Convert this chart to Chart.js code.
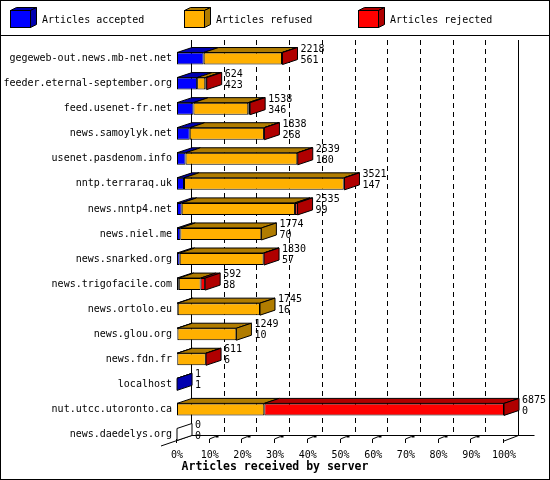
<!DOCTYPE html>
<html>
<head>
<meta charset="utf-8">
<script src="https://cdn.jsdelivr.net/npm/chart.js@4.4.1/dist/chart.umd.min.js"></script>
<style>
  html, body { margin: 0; padding: 0; background: #fff; }
  #wrap { width: 550px; height: 480px; }
</style>
</head>
<body>
<div id="wrap"><canvas id="chart" width="550" height="480"></canvas></div>
<script>
// ---------------------------------------------------------------
// Data

const hosts = [
    'gegeweb-out.news.mb-net.net', 'feeder.eternal-september.org', 'feed.usenet-fr.net',
    'news.samoylyk.net', 'usenet.pasdenom.info', 'nntp.terraraq.uk', 'news.nntp4.net',
    'news.niel.me', 'news.snarked.org', 'news.trigofacile.com', 'news.ortolo.eu',
    'news.glou.org', 'news.fdn.fr', 'localhost', 'nut.utcc.utoronto.ca', 'news.daedelys.org'
];
const totals   = [2218, 624, 1538, 1838, 2539, 3521, 2535, 1774, 1830, 592, 1745, 1249, 611, 1, 6875, 0];
const accepted = [561, 423, 346, 268, 180, 147, 99, 70, 57, 38, 16, 10, 6, 1, 0, 0];
const refused  = [1647, 171, 1152, 1560, 2349, 3359, 2381, 1704, 1763, 459, 1729, 1239, 600, 0, 1835, 0];
const rejected = [10, 30, 40, 10, 10, 15, 55, 0, 10, 95, 0, 0, 5, 0, 5040, 0];
const tickLabels = ['0%', '10%', '20%', '30%', '40%', '50%', '60%', '70%', '80%', '90%', '100%'];
const seriesNames = ['Articles accepted', 'Articles refused', 'Articles rejected'];
const X_MAX = 6875;

// ---------------------------------------------------------------

const frontColors = ['#0000ff', '#ffb000', '#ff0000'];
const sideColors = ['#0000b0', '#b07c00', '#b00000'];
const MONO = "'DejaVu Sans Mono', 'Liberation Mono', monospace";
const DX = 15, DY = 5;

function poly(ctx, pts, fill) {
    ctx.beginPath();
    ctx.moveTo(pts[0][0], pts[0][1]);
    for (let i = 1; i < pts.length; i++) ctx.lineTo(pts[i][0], pts[i][1]);
    ctx.closePath();
    ctx.fillStyle = fill;
    ctx.fill();
    ctx.stroke();
}

function line(ctx, x0, y0, x1, y1) {
    ctx.beginPath();
    ctx.moveTo(x0, y0);
    ctx.lineTo(x1, y1);
    ctx.stroke();
}

const threeD = {
    id: 'threeD',
    beforeDraw(chart) {
        const ctx = chart.ctx;
        ctx.save();
        ctx.fillStyle = '#fff';
        ctx.fillRect(0, 0, chart.width, chart.height);
        ctx.strokeStyle = '#000';
        ctx.lineWidth = 1;
        ctx.strokeRect(0.5, 0.5, chart.width - 1, chart.height - 1);
        line(ctx, 0, 35.5, chart.width, 35.5);

        // legend with little cubes
        const lx = [10, 184, 358];
        ctx.font = '10px ' + MONO;
        ctx.textBaseline = 'middle';
        seriesNames.forEach((name, k) => {
            const x = lx[k] + 0.5, y = 10.5;
            poly(ctx, [[x, y], [x + 6, y - 3], [x + 26, y - 3], [x + 20, y]], sideColors[k]);
            poly(ctx, [[x + 20, y], [x + 26, y - 3], [x + 26, y + 14], [x + 20, y + 17]], sideColors[k]);
            ctx.fillStyle = frontColors[k];
            ctx.fillRect(x, y, 20, 17);
            ctx.strokeRect(x, y, 20, 17);
            ctx.fillStyle = '#000';
            ctx.fillText(name, lx[k] + 32, 20);
        });
        ctx.restore();
    },
    beforeDatasetsDraw(chart) {
        const ctx = chart.ctx;
        const xs = chart.scales.x;
        const a = chart.chartArea;
        const backY = 435.5, topY = 40, frontY = 441;
        ctx.save();
        ctx.strokeStyle = '#000';
        ctx.lineWidth = 1;
        const bl = Math.round(a.left + DX) - 0.5, br = Math.round(a.right + DX) - 0.5;
        line(ctx, bl, topY, bl, backY);
        line(ctx, br, topY, br, backY);
        line(ctx, bl, backY, br + 16, backY);
        line(ctx, a.left - 16, frontY + 5, bl, backY);
        line(ctx, a.right, frontY, br, backY);

        ctx.setLineDash([5, 4]);
        for (let i = 1; i < tickLabels.length - 1; i++) {
            const x = Math.round(xs.getPixelForValue(X_MAX * i / 10) + DX) - 0.5;
            line(ctx, x, topY, x, backY);
        }
        ctx.setLineDash([]);

        // small tick marks on the floor
        for (let i = 0; i < tickLabels.length; i++) {
            const x = Math.round(xs.getPixelForValue(X_MAX * i / 10)) - 0.5;
            line(ctx, x, frontY - 2, x, frontY + 2);
            if (i > 0 && i < tickLabels.length - 1) {
                line(ctx, x, frontY - 2, x + 6, frontY - 4.5);
                ctx.fillStyle = '#000';
                ctx.fillRect(x + 6, backY - 0.5, 3, 2.5);
            }
        }
        ctx.restore();
    },
    afterDatasetsDraw(chart) {
        const ctx = chart.ctx;
        const xs = chart.scales.x;
        const meta = chart.getDatasetMeta(0);
        ctx.save();
        ctx.strokeStyle = '#000';
        ctx.lineWidth = 1;
        ctx.font = '10px ' + MONO;
        ctx.textBaseline = 'middle';
        hosts.forEach((h, i) => {
            const el = meta.data[i];
            const yt = el.y - el.height / 2, yb = el.y + el.height / 2;
            const vals = [accepted[i], refused[i], rejected[i]];
            let start = 0, last = -1;
            vals.forEach((v, k) => {
                if (v <= 0) return;
                const x0 = xs.getPixelForValue(start), x1 = xs.getPixelForValue(start + v);
                poly(ctx, [[x0, yt], [x0 + DX, yt - DY], [x1 + DX, yt - DY], [x1, yt]], sideColors[k]);
                start += v;
                last = k;
            });
            const xe = xs.getPixelForValue(start);
            poly(ctx, [[xe, yt], [xe + DX, yt - DY], [xe + DX, yb - DY], [xe, yb]], last < 0 ? '#fff' : sideColors[last]);

            ctx.fillStyle = '#000';
            ctx.fillText(String(totals[i]), xe + DX + 3, el.y - 9.5);
            ctx.fillText(String(accepted[i]), xe + DX + 3, el.y + 1.5);
        });
        ctx.restore();
    },
    afterDraw(chart) {
        const ctx = chart.ctx;
        ctx.save();
        ctx.fillStyle = '#000';
        ctx.font = 'bold 11.5px ' + MONO;
        ctx.textAlign = 'center';
        ctx.textBaseline = 'middle';
        ctx.fillText('Articles received by server', chart.width / 2, 467);
        ctx.restore();
    }
};

const series = [accepted, refused, rejected];

new Chart(document.getElementById('chart').getContext('2d'), {
    type: 'bar',
    data: {
        labels: hosts,
        datasets: series.map((d, k) => ({
            label: seriesNames[k],
            data: d,
            backgroundColor: frontColors[k],
            borderColor: '#000',
            borderWidth: 1,
            borderSkipped: false,
            barPercentage: 0.48,
            categoryPercentage: 1
        }))
    },
    options: {
        indexAxis: 'y',
        responsive: false,
        animation: false,
        layout: { padding: { top: 46, right: 46, left: 0, bottom: 0 } },
        plugins: { legend: { display: false }, tooltip: { enabled: false } },
        scales: {
            x: {
                stacked: true,
                min: 0,
                max: X_MAX,
                grid: { display: false, drawTicks: false },
                border: { display: false },
                ticks: {
                    stepSize: X_MAX / 10,
                    autoSkip: false,
                    maxRotation: 0,
                    padding: 2,
                    color: '#000',
                    font: { family: MONO, size: 10 },
                    callback: (v, i) => tickLabels[i]
                },
                afterFit: (s) => { s.height = 33; }
            },
            y: {
                stacked: true,
                grid: { display: false, drawTicks: false },
                border: { display: false },
                ticks: {
                    autoSkip: false,
                    padding: 5,
                    color: '#000',
                    font: { family: MONO, size: 10 }
                },
                afterFit: (s) => { s.width = 177; }
            }
        }
    },
    plugins: [threeD]
});
</script>
</body>
</html>
